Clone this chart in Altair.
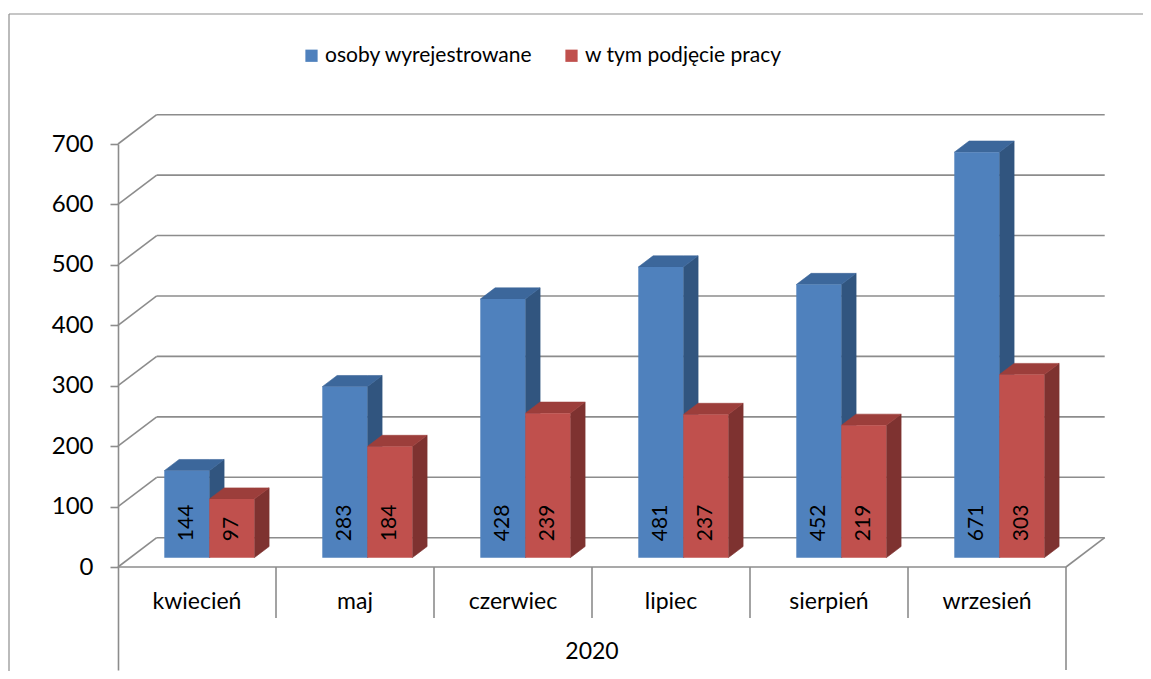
import altair as alt
import pandas as pd

# ---------------- data ----------------
MONTHS = ["kwiecień", "maj", "czerwiec", "lipiec", "sierpień", "wrzesień"]
YEAR = "2020"
SERIES = ["osoby wyrejestrowane", "w tym podjęcie pracy"]
WYREJESTROWANE = [144, 283, 428, 481, 452, 671]
PODJECIE = [97, 184, 239, 237, 219, 303]
Y_TICKS = [0, 100, 200, 300, 400, 500, 600, 700]

# ---------------- styles ----------------
FRONT = ["#4F81BD", "#C0504D"]
TOP = ["#3C679B", "#9C3E3B"]
SIDE = ["#31557F", "#7E3230"]
GRAY = "#8C8C8C"
FONT = "Lato"

# ---------------- layout (page pixels) ----------------
X0 = 118.0            # front-left corner (y axis line)
PY_ZERO = 567.0       # page y of value 0 on the front plane
PY_TOP = 144.0        # page y of the top tick
S = (PY_ZERO - PY_TOP) / Y_TICKS[-1]   # px per unit
CAT_W = 158.0
N = len(MONTHS)
X_END = X0 + N * CAT_W
WALL_DX = 38.7
WALL_DY = 29.3 / S
BAR_W = 45.0
BAR_X_OFF = 46.3
BAR_BASE = 9.3 / S
BAR_DX = 14.8
BAR_DY = 11.2 / S
LABEL_OFF = 16.5 / S

W = 988.0
PY_BOTTOM = 670.0
H = PY_BOTTOM - PY_TOP
YMIN = -(PY_BOTTOM - PY_ZERO) / S
PAD_L = X0 - 8
PAD_T = PY_TOP - 8


def vy(py):
    """page y -> value units"""
    return (PY_ZERO - py) / S


# ---------------- tables ----------------
fronts, sides, tops = [], [], []
pid = 0
for i, m in enumerate(MONTHS):
    for s, vals in enumerate([WYREJESTROWANE, PODJECIE]):
        v = vals[i]
        xl = X0 + i * CAT_W + BAR_X_OFF + s * BAR_W
        xr = xl + BAR_W
        fronts.append(dict(series=SERIES[s], x=xl, x2=xr, y=BAR_BASE, y2=v + BAR_BASE,
                           xc=(xl + xr) / 2, yl=BAR_BASE + LABEL_OFF, label=str(v)))
        sides += [
            dict(pid=pid, c=SIDE[s], x=xr, y=v + BAR_BASE, y2=BAR_BASE),
            dict(pid=pid, c=SIDE[s], x=xr + BAR_DX, y=v + BAR_BASE + BAR_DY, y2=BAR_BASE + BAR_DY),
        ]
        tops += [
            dict(pid=pid, c=TOP[s], x=xl, y=v + BAR_BASE, y2=v + BAR_BASE),
            dict(pid=pid, c=TOP[s], x=xl + BAR_DX, y=v + BAR_BASE + BAR_DY, y2=v + BAR_BASE),
            dict(pid=pid, c=TOP[s], x=xr, y=v + BAR_BASE + BAR_DY, y2=v + BAR_BASE),
            dict(pid=pid, c=TOP[s], x=xr + BAR_DX, y=v + BAR_BASE + BAR_DY, y2=v + BAR_BASE + BAR_DY),
        ]
        pid += 1

fronts = pd.DataFrame(fronts)
sides = pd.DataFrame(sides)
tops = pd.DataFrame(tops)

lines = []
for t in Y_TICKS:
    lines.append(dict(x=X0 + WALL_DX, x2=X_END + WALL_DX, y=t + WALL_DY, y2=t + WALL_DY))
    lines.append(dict(x=X0, x2=X0 + WALL_DX, y=t, y2=t + WALL_DY))
lines.append(dict(x=X0, x2=X_END, y=0, y2=0))
lines.append(dict(x=X_END, x2=X_END + WALL_DX, y=0, y2=WALL_DY))
for i in range(1, N + 1):
    bottom = YMIN if i == N else vy(618)
    lines.append(dict(x=X0 + i * CAT_W, x2=X0 + i * CAT_W, y=0, y2=bottom))
lines = pd.DataFrame(lines)

frame = pd.DataFrame([
    dict(x=9, x2=1160, y=vy(14), y2=vy(14)),
    dict(x=9, x2=9, y=vy(14), y2=vy(690)),
])

cat_labels = pd.DataFrame(dict(
    label=MONTHS,
    x=[X0 + (i + 0.5) * CAT_W for i in range(N)],
    y=[vy(602)] * N,
))
year_label = pd.DataFrame(dict(label=[YEAR], x=[(X0 + X_END) / 2], y=[vy(652)]))

# ---------------- encodings ----------------
xs = alt.Scale(domain=[X0, X0 + W], nice=False, zero=False)
ys = alt.Scale(domain=[YMIN, Y_TICKS[-1]], nice=False, zero=False)
y_axis = alt.Axis(values=Y_TICKS, grid=False, domainColor=GRAY, domainWidth=1.6,
                  tickColor=GRAY, tickWidth=1.6, tickSize=8, labelFont=FONT,
                  labelFontSize=24, labelColor="black", labelPadding=17, title=None)


def X(f="x"):
    return alt.X(f"{f}:Q", scale=xs, axis=None)


def Y(f="y"):
    return alt.Y(f"{f}:Q", scale=ys, axis=y_axis, stack=None)


grid = alt.Chart(lines).mark_rule(color=GRAY, strokeWidth=1.6).encode(
    x=X(), x2="x2:Q", y=Y(), y2="y2:Q")

frame_layer = alt.Chart(frame).mark_rule(color="#8E8E8E", strokeWidth=1.2).encode(
    x=X(), x2="x2:Q", y=Y(), y2="y2:Q")

side_layer = alt.Chart(sides).mark_area(interpolate="linear", opacity=1, strokeWidth=0.6).encode(
    x=X(), y=Y(), y2="y2:Q",
    fill=alt.Fill("c:N", scale=None),
    stroke=alt.Stroke("c:N", scale=None),
    detail="pid:N")

top_layer = alt.Chart(tops).mark_area(interpolate="linear", opacity=1, strokeWidth=0.6).encode(
    x=X(), y=Y(), y2="y2:Q",
    fill=alt.Fill("c:N", scale=None),
    stroke=alt.Stroke("c:N", scale=None),
    detail="pid:N")

front_layer = alt.Chart(fronts).mark_rect(opacity=1).encode(
    x=X(), x2="x2:Q", y=Y(), y2="y2:Q",
    color=alt.Color("series:N", scale=alt.Scale(domain=SERIES, range=FRONT),
                    legend=alt.Legend(orient="none", legendX=183, legendY=-99,
                                      direction="horizontal", title=None,
                                      symbolType="square", symbolSize=150,
                                      symbolStrokeWidth=0, labelFont=FONT,
                                      labelFontSize=21, labelColor="black",
                                      labelLimit=600,
                                      columnPadding=28, labelOffset=3, padding=0)))

bar_text = alt.Chart(fronts).mark_text(angle=270, font=FONT, fontSize=21, color="black",
                                       align="left", baseline="middle").encode(
    x=X("xc"), y=Y("yl"), text="label:N")

cat_text = alt.Chart(cat_labels).mark_text(font=FONT, fontSize=23, color="black",
                                           align="center", baseline="middle").encode(
    x=X(), y=Y(), text="label:N")

year_text = alt.Chart(year_label).mark_text(font=FONT, fontSize=23, color="black",
                                            align="center", baseline="middle").encode(
    x=X(), y=Y(), text="label:N")

chart = alt.layer(frame_layer, grid, side_layer, top_layer, front_layer, bar_text,
                  cat_text, year_text).properties(
    width=W, height=H,
    autosize=alt.AutoSizeParams(type="none"),
    padding={"left": PAD_L, "top": PAD_T, "right": 1135 - PAD_L - W, "bottom": 663 - PAD_T - H},
).configure(background="white", view=alt.ViewConfig(stroke=None))

chart.save("out.html", embed_options={"renderer": "svg", "actions": False})
